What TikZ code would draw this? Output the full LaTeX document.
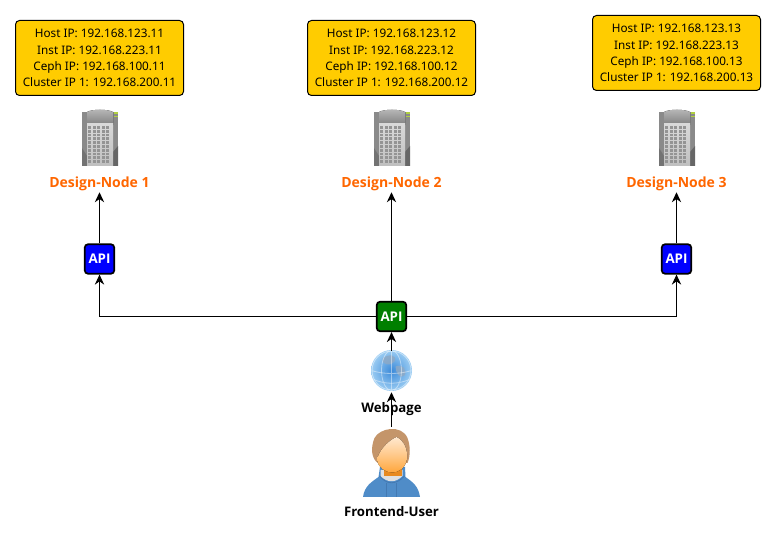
\documentclass[tikz,border=0pt]{standalone}
\usepackage{fontspec}
\setmainfont{Noto Sans}
\newfontfamily\headfont{Open Sans}
\usetikzlibrary{arrows.meta}
\definecolor{boxfill}{HTML}{FFCC00}
\definecolor{labelorange}{HTML}{FF6600}
\definecolor{apiblue}{HTML}{0000FF}
\definecolor{apigreen}{HTML}{007F00}
\definecolor{hairbrown}{HTML}{C4956A}
\definecolor{hoodblue}{HTML}{4F8CC8}
\definecolor{hooddark}{HTML}{4379B2}
\definecolor{facelight}{HTML}{FFE8CF}
\definecolor{facemid}{HTML}{FFC98A}
\definecolor{facedark}{HTML}{FFA63C}
\definecolor{neckdark}{HTML}{E88A20}
\definecolor{globeblue}{HTML}{3D8BD9}
\definecolor{globerim}{HTML}{9CCDF3}
\definecolor{globeland}{HTML}{8FA9C4}
\definecolor{serverled}{HTML}{B0D040}
\tikzset{
  ipbox/.style={draw=black, fill=boxfill, rounded corners=3pt, line width=0.75pt, align=center,
    font=\fontsize{8.8}{12.2}\selectfont, minimum width=168*0.75pt, minimum height=75*0.75pt, inner sep=0pt,
    execute at begin node={\rule{0pt}{10pt}}},
  nodelabel/.style={text=labelorange, font=\headfont\fontsize{10.5}{12}\selectfont\bfseries,
    text height=8pt, text depth=0pt, minimum height=20*0.75pt, inner sep=0pt},
  iconlabel/.style={text=black, font=\headfont\fontsize{9.9}{12}\selectfont\bfseries,
    text height=7.2pt, text depth=0pt, inner sep=0pt},
  apibox/.style={draw=black, line width=1.3pt, rounded corners=2.5pt, text=white,
    font=\headfont\fontsize{10}{12}\selectfont\bfseries, minimum size=29.5*0.75pt, inner sep=0pt},
  iconbox/.style={inner sep=0pt, minimum width=#1*0.75pt},
  conn/.style={line width=0.75pt, -{Stealth[length=7.5pt, width=7pt]}},
  serverpic/.pic={
    \fill[black!46] (-18,-26) rectangle (18,28);
    \fill[black!60] (18,8) -- (13,14) -- (13,28) -- (18,28) -- cycle;
    \fill[black!55] (-18,10) -- (-13,18) -- (-13,28) -- (-18,28) -- cycle;
    \fill[top color=black!28, bottom color=black!50] (-13,-26) .. controls (-8,-29) and (8,-29) .. (13,-26) -- (13,-13) -- (-13,-13) -- cycle;
    \fill[top color=black!15, bottom color=black!25] (-13,-14) rectangle (13,28);
    \foreach \gridy in {-12,-8.2,...,26} {
      \foreach \gridx in {-12,-7.5,...,10} {
        \fill[black!42] (\gridx,\gridy) rectangle ++(3.4,2.8);
      }
    }
    \fill[serverled] (14,-25.5) rectangle (18,-24);
    \fill[serverled] (14,-22) rectangle (18,-20.5);
  },
  globepic/.pic={
    \shade[inner color=globeblue, outer color=globerim] (0,-1) circle (20.5);
    \fill[globeland, opacity=0.8] (-9,-13) .. controls (-3,-18) and (6,-17) .. (3,-10) .. controls (0,-5) and (-10,-6) .. cycle;
    \fill[globeland, opacity=0.8] (4,-5) .. controls (11,-8) and (16,-2) .. (13,4) .. controls (9,8) and (4,2) .. cycle;
    \draw[white, opacity=0.45, line width=0.6pt] (0,-1) circle (19.5) (0,-21) -- (0,19) (-20,-1) .. controls (-8,3) and (8,3) .. (20,-1);
    \draw[white, opacity=0.45, line width=0.6pt] (0,-1) ellipse (10 and 20) (-18,8) .. controls (-6,13) and (6,13) .. (18,8);
  },
  userpic/.pic={
    % hoodie
    \fill[hoodblue] (-28.5,35) .. controls (-27,24) and (-20,20) .. (-13,15)
      -- (-11.5,5) -- (13.5,5) -- (14,15) .. controls (21,20) and (27,24) .. (28.5,35) -- cycle;
    \fill[black!12] (-11,14) .. controls (-4,21) and (4,21) .. (11,14) -- (11,8) -- (-11,8) -- cycle;
    \fill[neckdark] (-8,0) rectangle (10,14.5);
    \draw[hooddark, line width=0.5pt] (-5,21) -- (-5,35) (5,21) -- (5,35);
    \draw[hooddark, line width=0.6pt] (-12,14) .. controls (-5,23) and (5,23) .. (13,14);
    % hair and face
    \fill[hairbrown] (-15,0) .. controls (-20,-5) and (-21,-14) .. (-17,-24)
      .. controls (-12,-34) and (10,-38) .. (16,-24) .. controls (19,-16) and (19,-6) .. (16,1)
      -- (14,1) -- (-13,1) -- cycle;
    \fill[top color=facelight, bottom color=facedark, middle color=facemid] (-14.5,-2) .. controls (-13,-11) and (-4,-21) .. (5,-25)
      .. controls (13,-21) and (16.5,-12) .. (15.5,-3) .. controls (14,6) and (7,10.5) .. (1,10.5)
      .. controls (-6,10.5) and (-13,6) .. (-14.5,-2) -- cycle;
  }
}
\begin{document}
\begin{tikzpicture}[x=0.75pt, y=-0.75pt]
  \useasboundingbox (0,0) rectangle (776,538);
  % address boxes
  \node[ipbox] (ipA) at (99.5,58) {Host IP: 192.168.123.11\\Inst IP: 192.168.223.11\\Ceph IP: 192.168.100.11\\Cluster IP 1: 192.168.200.11};
  \node[ipbox] (ipB) at (391.5,58) {Host IP: 192.168.123.12\\Inst IP: 192.168.223.12\\Ceph IP: 192.168.100.12\\Cluster IP 1: 192.168.200.12};
  \node[ipbox] (ipC) at (676.5,53) {Host IP: 192.168.123.13\\Inst IP: 192.168.223.13\\Ceph IP: 192.168.100.13\\Cluster IP 1: 192.168.200.13};
  % servers
  \pic at (100,138) {serverpic};
  \pic at (392,138) {serverpic};
  \pic at (677,138) {serverpic};
  \node[nodelabel] (labelA) at (99.5,182) {Design-Node 1};
  \node[nodelabel] (labelB) at (391.5,182) {Design-Node 2};
  \node[nodelabel] (labelC) at (676.5,182) {Design-Node 3};
  % api boxes
  \node[apibox, fill=apiblue] (apiA) at (99.5,259) {API};
  \node[apibox, fill=apiblue] (apiC) at (676.5,259) {API};
  \node[apibox, fill=apigreen] (apiB) at (391.5,316.5) {API};
  % webpage and user
  \node[iconbox=41, minimum height=41*0.75pt] (globe) at (391.5,371.5) {};
  \pic at (globe) {globepic};
  \node[iconlabel] (weblabel) at (391.5,407.5) {Webpage};
  \node[iconbox=57, minimum height=70*0.75pt] (user) at (391.5,462) {};
  \pic at (user) {userpic};
  \node[iconlabel] (userlabel) at (391.5,512) {Frontend-User};
  % connectors
  \draw[conn] (apiA) -- (labelA);
  \draw[conn] (apiC) -- (labelC);
  \draw[conn] (apiB) -- (labelB);
  \draw[conn] (apiB) -| (apiA);
  \draw[conn] (apiB) -| (apiC);
  \draw[conn] (globe) -- (apiB);
  \draw[conn] (user) -- (globe);
\end{tikzpicture}
\end{document}
